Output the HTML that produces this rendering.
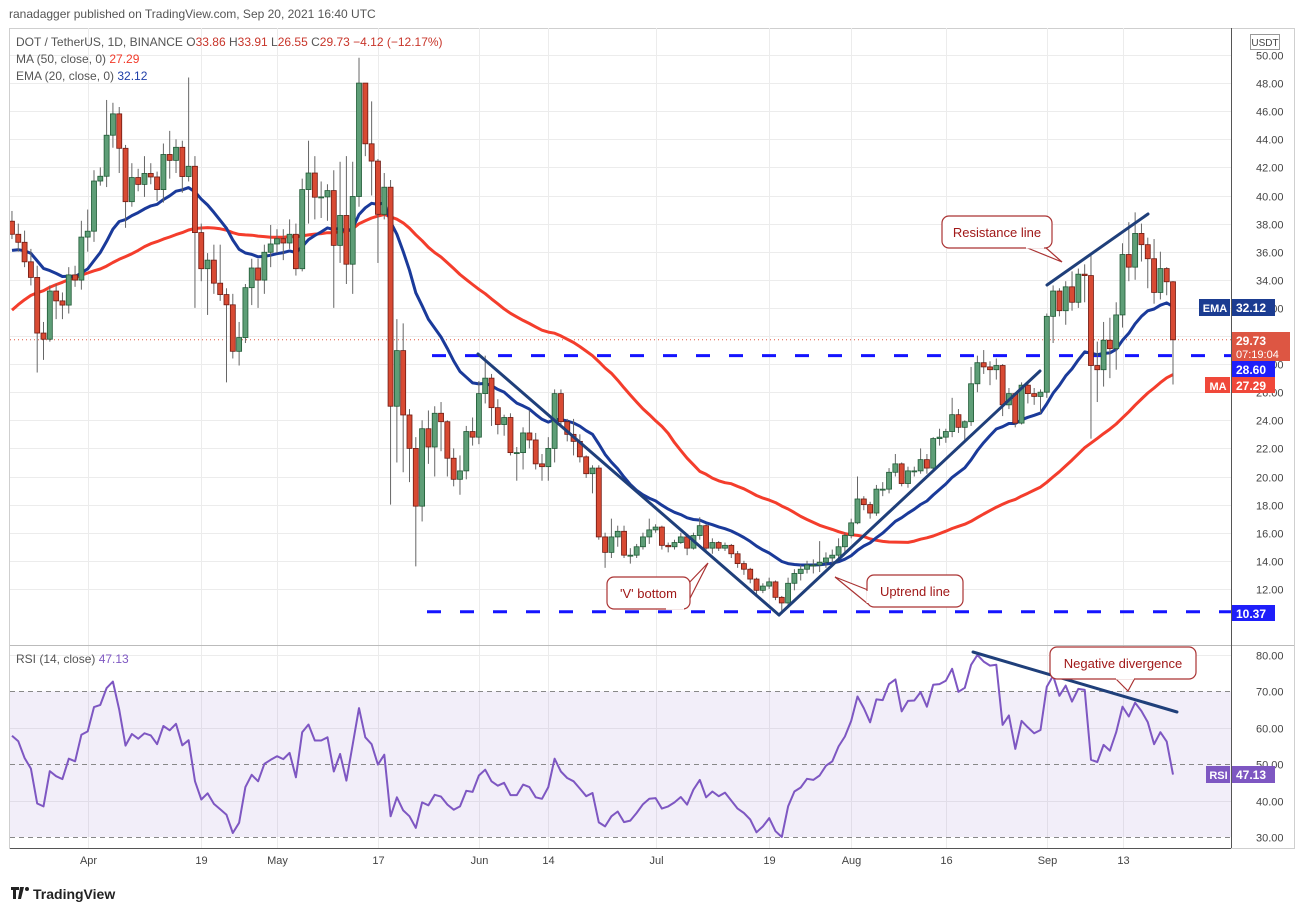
<!DOCTYPE html>
<html><head><meta charset="utf-8">
<style>
html,body{margin:0;padding:0;background:#fff;}
body{width:1304px;height:912px;overflow:hidden;font-family:"Liberation Sans",Arial,sans-serif;}
svg text{font-family:"Liberation Sans",Arial,sans-serif;}
</style></head>
<body>
<svg id="chart" width="1304" height="912" viewBox="0 0 1304 912" xmlns="http://www.w3.org/2000/svg">
  <defs>
    <clipPath id="mainClip"><rect x="10" y="28" width="1221" height="617"/></clipPath>
    <clipPath id="rsiClip"><rect x="10" y="646" width="1221" height="202"/></clipPath>
  </defs>
  <text x="9" y="18" font-size="12" fill="#555">ranadagger published on TradingView.com, Sep 20, 2021 16:40 UTC</text>
  <rect x="9.5" y="28.5" width="1285" height="820" fill="none" stroke="#cfcfcf"/>
  <g id="grid"></g>
  <rect id="rsiBand" x="10" y="0" width="1221" height="0" fill="#7e57c2" fill-opacity="0.1"/>
  <g id="levels"></g>
  <g id="main" clip-path="url(#mainClip)"></g>
  <g id="rsi" clip-path="url(#rsiClip)"></g>
  <line x1="10" y1="645.5" x2="1294" y2="645.5" stroke="#bbb"/>
  <line x1="1231.5" y1="28" x2="1231.5" y2="848" stroke="#555"/>
  <line x1="10" y1="848.5" x2="1231" y2="848.5" stroke="#555"/>
  <g id="axis"></g>
  <g id="xaxis"></g>
  <g font-size="12">
    <text x="16" y="46" fill="#555">DOT / TetherUS, 1D, BINANCE <tspan fill="#555">O</tspan><tspan fill="#c8352a">33.86</tspan> <tspan fill="#555">H</tspan><tspan fill="#c8352a">33.91</tspan> <tspan fill="#555">L</tspan><tspan fill="#c8352a">26.55</tspan> <tspan fill="#555">C</tspan><tspan fill="#c8352a">29.73</tspan> <tspan fill="#c8352a">−4.12 (−12.17%)</tspan></text>
    <text x="16" y="63" fill="#555">MA (50, close, 0) <tspan fill="#f23a2a">27.29</tspan></text>
    <text x="16" y="80" fill="#555">EMA (20, close, 0) <tspan fill="#1f3ea8">32.12</tspan></text>
    <text x="16" y="663" fill="#555">RSI (14, close) <tspan fill="#7e57c2">47.13</tspan></text>
  </g>
  <g>
    <rect x="1250.5" y="34.5" width="29" height="15" fill="#fff" stroke="#999"/>
    <text x="1265" y="46" font-size="10" fill="#444" text-anchor="middle">USDT</text>
  </g>
  <g id="annotations"></g>
  <g id="boxes"></g>
  <g>
    <path d="M11 887h8v3h-3v9h-3v-9h-2z M20 887h4l-3 12h-3z" fill="#222"/>
    <circle cx="27" cy="889" r="2" fill="#222"/>
    <text x="33" y="899" font-size="14" font-weight="bold" fill="#222">TradingView</text>
  </g>
</svg>
<script>
const priorCloses = [17,18,19,21,22,21,23,24,25,27,28,30,33,35,34,33,32,30,31,29,28,31,33,34,35,35,34,33,32,
  33,34,35,36,37,38,36,35,36,37,38,39,37,36,35,36,37,38,37,38];
const firstOpen = 38.17;
const closes = [37.24,36.67,35.28,34.17,30.21,29.77,33.2,32.5,32.2,34.35,33.98,37.04,37.46,41.03,41.37,44.29,45.81,43.36,39.56,41.28,
40.79,41.57,41.32,40.42,42.92,42.5,43.43,41.35,42.08,37.36,34.79,35.4,33.76,32.95,32.22,28.91,29.89,33.44,34.84,33.98,
35.96,36.55,36.92,36.62,37.24,34.79,40.42,41.6,39.88,39.9,40.35,36.45,38.58,35.11,39.93,48.0,43.68,42.45,38.66,40.59,
25.0,28.96,24.38,22.0,17.89,23.4,22.1,24.5,23.9,21.3,19.8,20.4,23.2,22.8,25.9,27.0,24.9,23.7,24.2,21.7,
21.7,23.1,22.6,20.9,20.7,22.0,25.9,23.9,23.0,22.5,21.4,20.2,20.6,15.7,14.6,15.7,16.1,14.4,14.4,15.0,
15.7,16.2,16.4,15.1,15.0,15.3,15.7,14.9,15.8,16.5,14.9,15.3,14.9,15.1,14.5,13.8,13.4,12.7,11.9,12.2,
12.5,11.4,11.0,12.4,13.1,13.4,13.7,13.7,13.9,14.2,14.4,15.0,15.8,16.7,18.4,18.0,17.4,19.1,19.1,20.3,
20.9,19.5,20.4,20.4,21.2,20.6,22.7,22.8,23.2,24.4,23.5,23.9,26.6,28.1,27.8,27.6,27.9,25.1,25.9,23.8,
26.5,25.9,25.7,26.0,31.4,33.2,31.8,33.5,32.4,34.4,34.3,27.9,27.6,29.7,29.1,31.5,35.8,34.9,37.3,36.5,
35.5,33.1,34.8,33.86,29.73];
const highs = [38.9,38.0,37.5,36.2,35.0,31.0,33.6,33.7,33.1,34.9,35.0,38.2,39.0,41.8,42.0,46.8,46.6,46.3,43.6,42.3,
41.9,42.8,42.3,41.7,43.7,44.6,44.0,43.9,48.4,42.8,38.0,35.9,36.5,36.5,33.4,33.0,31.0,33.7,35.5,35.5,
36.5,37.9,37.6,37.6,38.3,38.0,41.2,43.9,42.8,41.0,40.8,41.8,42.4,42.8,42.4,49.8,48.0,46.7,42.6,41.6,
41.1,31.2,30.9,24.8,22.8,24.0,24.7,25.0,25.3,24.0,22.0,21.5,23.6,24.2,26.8,28.6,27.3,25.5,24.4,24.5,
22.1,23.5,24.7,23.1,21.6,22.8,26.2,26.2,24.1,24.1,23.0,21.5,20.8,20.8,16.0,17.0,16.5,16.5,14.9,15.2,
16.0,17.0,16.6,16.5,15.3,15.5,16.0,15.8,16.0,17.1,16.6,15.6,15.4,15.3,15.2,14.7,14.0,13.5,12.8,12.4,
12.8,12.6,11.5,12.8,13.4,13.7,14.0,14.1,15.4,14.6,14.8,15.6,16.0,17.0,20.0,18.6,18.2,19.4,19.6,20.6,
21.6,21.0,20.7,20.7,22.0,21.6,22.8,23.4,23.4,25.6,24.8,24.0,27.8,28.6,29.0,28.2,28.4,28.0,26.3,26.0,
26.7,26.6,26.3,26.2,31.6,33.6,33.4,33.9,34.6,34.8,35.1,35.8,29.6,31.0,31.3,32.4,36.6,38.1,38.8,38.0,
37.0,36.9,36.0,34.9,33.91];
const lows = [36.9,36.0,34.9,33.6,27.4,28.3,29.6,31.2,31.2,31.6,33.5,33.3,36.0,36.7,40.7,40.6,43.4,41.6,37.7,39.2,
40.3,39.9,40.8,39.6,39.5,41.2,41.6,40.2,41.0,32.0,33.9,31.5,33.0,32.5,26.7,28.4,27.9,29.5,32.2,32.0,
33.0,34.9,35.9,35.4,36.2,34.3,34.6,38.0,38.3,38.4,38.2,32.0,35.2,33.7,33.0,39.2,42.8,40.0,35.2,38.3,
18.0,21.0,20.3,19.6,13.6,16.8,20.9,20.0,21.8,20.0,19.3,18.7,19.8,22.2,22.3,25.2,23.6,23.0,22.9,21.5,
19.7,20.5,22.0,20.5,19.7,19.7,21.0,23.5,22.5,21.5,21.0,19.9,18.8,15.5,13.5,14.2,15.0,14.2,13.8,14.2,
14.8,15.2,16.0,14.8,14.6,14.8,15.2,14.4,14.8,15.5,14.7,14.5,14.7,14.7,14.2,13.5,13.0,12.4,11.6,11.7,
12.0,11.2,10.4,10.8,11.9,12.6,13.1,13.1,13.2,13.5,13.8,14.2,14.6,15.6,16.6,17.6,17.0,17.2,18.6,18.8,
20.0,19.3,19.2,20.0,20.2,20.2,20.4,22.2,22.4,22.8,23.1,22.6,23.6,26.0,27.3,26.5,26.9,24.3,24.8,23.5,
23.7,25.2,25.1,24.5,25.6,29.5,31.4,30.8,31.8,32.0,32.4,22.7,25.3,26.4,27.0,27.6,30.6,33.9,34.0,35.3,
33.4,32.3,32.6,32.9,26.55];
const rsiValues = [57.8,56.3,51.7,48.8,39.2,38.4,48.1,46.7,45.9,51.5,50.8,58.1,59.0,65.7,66.3,70.9,72.7,65.0,55.1,58.3,
57.0,58.5,57.9,55.5,60.5,59.3,61.1,55.2,56.6,45.3,40.3,42.0,39.1,37.6,36.1,31.1,33.9,43.7,47.1,45.3,
50.1,51.2,52.2,51.4,53.1,46.4,58.8,60.9,56.5,56.5,57.4,48.0,52.8,45.5,55.4,65.4,57.4,55.5,49.9,52.6,
35.7,40.9,37.3,35.7,32.5,39.5,38.7,41.6,41.1,38.9,37.5,38.4,42.7,42.4,46.9,48.5,45.3,44.1,44.9,41.5,
41.5,44.4,43.7,40.9,40.5,43.7,51.5,48.0,46.2,45.3,43.3,41.2,42.1,34.0,32.9,35.7,37.0,34.1,34.5,36.6,
39.0,40.5,40.7,37.8,38.4,39.5,41.0,38.9,43.0,45.7,40.9,42.5,41.2,42.2,40.0,37.8,36.6,34.8,31.3,32.9,
35.2,31.6,30.0,38.4,42.5,43.6,46.0,45.7,46.9,49.6,50.8,54.9,57.6,61.9,68.6,65.4,61.5,67.8,67.6,72.0,
73.3,64.5,67.4,67.5,69.8,65.8,71.8,72.0,72.9,76.2,69.9,71.0,77.3,80.0,78.2,77.1,77.3,60.8,63.4,54.2,
61.9,60.1,58.5,59.4,71.3,74.3,68.8,71.6,67.2,70.7,70.4,51.2,50.6,55.3,53.7,58.8,65.8,63.1,66.9,64.6,
61.5,55.5,58.8,56.2,47.13];
const priceTicks = [50,48,46,44,42,40,38,36,34,32,30,28,26,24,22,20,18,16,14,12];
const rsiTicks = [80,70,60,50,40,30];
const dateLabels = ["Apr","19","May","17","Jun","14","Jul","19","Aug","16","Sep","13"];
const dateIndex = [12,30,42,58,74,85,102,120,133,148,164,176];
const hLevels = [28.60, 10.37];

const NS = "http://www.w3.org/2000/svg";
const N = closes.length;
const STEP = 6.31;
const LASTX = 1173;
function xOf(i){ return LASTX - (N-1-i)*STEP; }
function yP(p){ return 55 + (50-p)*14.05; }
function yR(r){ return 655 + (80-r)*3.64; }
function mk(tag, attrs, parent){
  const e = document.createElementNS(NS, tag);
  for (const k in attrs) e.setAttribute(k, attrs[k]);
  parent.appendChild(e);
  return e;
}
const grid = document.getElementById('grid');
const mainG = document.getElementById('main');
const rsiG = document.getElementById('rsi');
const axisG = document.getElementById('axis');
const xaxisG = document.getElementById('xaxis');
const levelsG = document.getElementById('levels');
const annG = document.getElementById('annotations');
const boxG = document.getElementById('boxes');

priceTicks.forEach(p => {
  const y = Math.round(yP(p))+0.5;
  const l = mk('line', {x1:10, x2:1231, y1:y, y2:y, stroke:'#ececec'}, grid);
  
  
  const t = mk('text', {x:1256, y:y+4, 'font-size':11, fill:'#444', 'text-anchor':'start'}, axisG);
  t.textContent = p.toFixed(2);
  
  
});
rsiTicks.forEach(r => {
  const y = Math.round(yR(r))+0.5;
  if (r===80 || r===60 || r===40) {
    const l = mk('line', {x1:10, x2:1231, y1:y, y2:y, stroke:'#ececec'}, grid);
    
    
  }
  const t = mk('text', {x:1256, y:y+4, 'font-size':11, fill:'#444'}, axisG);
  t.textContent = r.toFixed(2);
  
  
});
dateIndex.forEach((di, k) => {
  const x = Math.round(xOf(di))+0.5;
  const l = mk('line', {x1:x, x2:x, y1:28, y2:848, stroke:'#ececec'}, grid);
  
  
  const t = mk('text', {x:x, y:864, 'font-size':11, fill:'#444', 'text-anchor':'middle'}, xaxisG);
  t.textContent = dateLabels[k];
  
  
});
const band = document.getElementById('rsiBand');
band.setAttribute('y', yR(70));
band.setAttribute('height', yR(30)-yR(70));
[70,50,30].forEach(r => {
  const y = Math.round(yR(r))+0.5;
  const l = mk('line', {x1:10, x2:1231, y1:y, y2:y, stroke:'#888', 'stroke-dasharray':'5 4'}, levelsG);
  
  
});
const lp = mk('line', {x1:10, x2:1231, y1:yP(closes[N-1]), y2:yP(closes[N-1]), stroke:'#e0553f', 'stroke-dasharray':'1 3'}, levelsG);



const all = priorCloses.concat(closes);
const P = priorCloses.length;
let ema = all[0];
const k20 = 2/21;
const emaPts = [], maPts = [];
for (let j=0; j<all.length; j++){
  ema = j===0 ? all[0] : all[j]*k20 + ema*(1-k20);
  if (j >= P){
    const i = j-P;
    emaPts.push(xOf(i).toFixed(1)+','+yP(ema).toFixed(1));
    const s = Math.max(0, j-49);
    let sum = 0; for (let q=s; q<=j; q++) sum += all[q];
    maPts.push(xOf(i).toFixed(1)+','+yP(sum/(j-s+1)).toFixed(1));
  }
}
const maLine = mk('polyline', {points:maPts.join(' '), fill:'none', stroke:'#f43d2c', 'stroke-width':3, 'stroke-linejoin':'round'}, mainG);


const emaLine = mk('polyline', {points:emaPts.join(' '), fill:'none', stroke:'#1a3a9a', 'stroke-width':3, 'stroke-linejoin':'round'}, mainG);



for (let i=0;i<N;i++){
  const o = i===0 ? firstOpen : closes[i-1];
  const c = closes[i];
  const up = c >= o;
  const x = xOf(i);
  const g = mk('g', {}, mainG);
  
  
  mk('line', {x1:x, x2:x, y1:yP(highs[i]), y2:yP(lows[i]), stroke:'#666', 'stroke-width':1}, g);
  const top = yP(Math.max(o,c)), bot = yP(Math.min(o,c));
  mk('rect', {x:x-2.5, y:top, width:5, height:Math.max(1, bot-top),
    fill: up ? '#5e9e77' : '#d84a33', stroke: up ? '#1f5a35' : '#6e1a12', 'stroke-width':0.8}, g);
}

hLevels.forEach((v, k) => {
  const y = yP(v);
  const l = mk('line', {x1: k===0 ? 432 : 427, x2:1231, y1:y, y2:y, stroke:'#1414ff', 'stroke-width':3, 'stroke-dasharray':'14 19'}, levelsG);
  
  
});

function tline(x1,y1,x2,y2,name,parent){
  const l = mk('line', {x1,y1,x2,y2, stroke:'#1f3f7a', 'stroke-width':3, 'stroke-linecap':'round'}, parent);
  
  
}
tline(478,354,779,615,'v-bottom-left-leg',annG);
tline(779,615,1040,371,'uptrend-line',annG);
tline(1047,285,1148,214,'resistance-line',annG);
tline(973,652,1177,712,'rsi-divergence-line',annG);

function callout(x,y,w,h,pointerPath,coverPath,label,name){
  const g = mk('g', {}, annG);
  
  
  mk('path', {d:pointerPath, fill:'#fff', stroke:'#a33', 'stroke-width':1.2}, g);
  mk('rect', {x, y, width:w, height:h, rx:7, fill:'#fff', stroke:'#a33', 'stroke-width':1.2}, g);
  mk('path', {d:coverPath, stroke:'#fff', 'stroke-width':2}, g);
  const t = mk('text', {x:x+w/2, y:y+h/2+5, 'font-size':13, fill:'#a01818', 'text-anchor':'middle'}, g);
  t.textContent = label;
}
callout(942,216,110,32,'M1025,247 L1062,262 L1045,247','M1026,247.5 L1044,247.5','Resistance line','resistance-line-callout');
callout(607,577,83,32,'M665,608 L708,563 L685,608','M666,608.5 L684,608.5',"'V' bottom",'v-bottom-callout');
callout(867,575,96,32,'M868,590 L835,577 L868,604','M867.5,591 L867.5,603','Uptrend line','uptrend-line-callout');
callout(1050,647,146,32,'M1115,678 L1128,691 L1135,678','M1116,678.5 L1134,678.5','Negative divergence','negative-divergence-callout');

const rOff = N - rsiValues.length;
const rPts = rsiValues.map((r,i) => xOf(i+rOff).toFixed(1)+','+yR(r).toFixed(1));
const rl = mk('polyline', {points:rPts.join(' '), fill:'none', stroke:'#7e57c2', 'stroke-width':2, 'stroke-linejoin':'round'}, rsiG);



function vbox(y,h,color,text,name,tag,tagW,text2){
  const g = mk('g', {}, boxG);
  
  
  mk('rect', {x:1232, y:y, width: text2 ? 58 : 43, height:h, fill:color}, g);
  const t = mk('text', {x:1236, y:y+13, 'font-size':12, 'font-weight':'bold', fill:'#fff'}, g);
  t.textContent = text;
  if (text2){
    const t2 = mk('text', {x:1236, y:y+26, 'font-size':11, fill:'#fff'}, g);
    t2.textContent = text2;
  }
  if (tag){
    mk('rect', {x:1231-tagW, y:y, width:tagW-1, height:h, fill:color}, g);
    const tt = mk('text', {x:1231-tagW/2, y:y+13, 'font-size':11, 'font-weight':'bold', fill:'#fff', 'text-anchor':'middle'}, g);
    tt.textContent = tag;
  }
}
vbox(299,17,'#1b3c91','32.12','ema-value-label','EMA',32);
vbox(332,29,'#dd5643','29.73','last-price-label',null,0,'07:19:04');
vbox(361,16,'#1e1efa','28.60','level-28-60-label');
vbox(377,16,'#f0483a','27.29','ma-value-label','MA',26);
vbox(605,16,'#1e1efa','10.37','level-10-37-label');
vbox(766,17,'#7e57c2','47.13','rsi-value-label','RSI',25);
</script>
</body></html>
